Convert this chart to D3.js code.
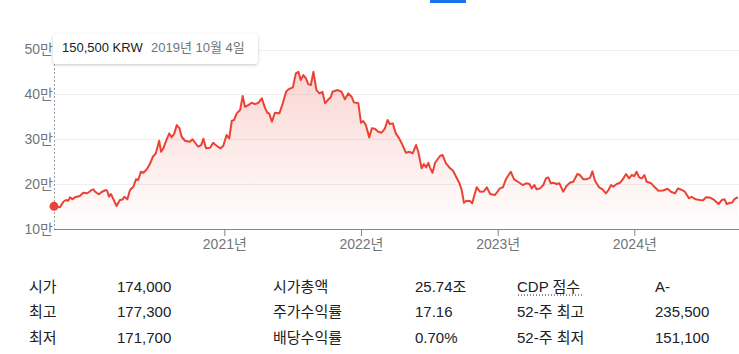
<!DOCTYPE html>
<html>
<head>
<meta charset="utf-8">
<script src="https://cdn.jsdelivr.net/npm/d3@7"></script>
<style>
  body { margin: 0; background: #fff; }
  svg { display: block; font-family: "Liberation Sans", Arial, "Noto Sans CJK KR", sans-serif; }
</style>
</head>
<body>
<script>
// closing prices, KRW
var dates = [
  "2019-10-04","2019-10-20","2019-10-29","2019-11-05","2019-11-11","2019-11-16","2019-11-22","2019-11-29",
  "2019-12-12","2019-12-21","2020-01-01","2020-01-10","2020-01-17","2020-01-23","2020-02-01","2020-02-08",
  "2020-02-20","2020-02-23","2020-02-28","2020-03-04","2020-03-10","2020-03-19","2020-03-28","2020-04-04",
  "2020-04-09","2020-04-17","2020-04-24","2020-05-03","2020-05-10","2020-05-16","2020-05-23","2020-05-30",
  "2020-06-08","2020-06-16","2020-06-24","2020-07-02","2020-07-11","2020-07-16","2020-07-22","2020-07-31",
  "2020-08-07","2020-08-13","2020-08-20","2020-08-27","2020-09-03","2020-09-09","2020-09-18","2020-10-01",
  "2020-10-08","2020-10-15","2020-10-23","2020-10-31","2020-11-06","2020-11-13","2020-11-24","2020-12-02",
  "2020-12-12","2020-12-22","2020-12-29","2021-01-07","2021-01-14","2021-01-21","2021-01-27","2021-02-03",
  "2021-02-12","2021-02-19","2021-02-25","2021-03-06","2021-03-15","2021-03-24","2021-04-02","2021-04-11",
  "2021-04-20","2021-04-26","2021-05-01","2021-05-08","2021-05-16","2021-05-28","2021-06-06","2021-06-15",
  "2021-06-21","2021-07-03","2021-07-11","2021-07-18","2021-07-24","2021-07-31","2021-08-07","2021-08-13",
  "2021-08-20","2021-08-27","2021-09-04","2021-09-12","2021-09-20","2021-09-27","2021-10-06","2021-10-12",
  "2021-10-17","2021-10-30","2021-11-10","2021-11-19","2021-11-28","2021-12-07","2021-12-13","2021-12-25",
  "2022-01-01","2022-01-07","2022-01-14","2022-01-23","2022-01-30","2022-02-07","2022-02-16","2022-02-25",
  "2022-03-06","2022-03-13","2022-03-19","2022-03-27","2022-04-04","2022-04-13","2022-04-22","2022-05-01",
  "2022-05-10","2022-05-19","2022-05-28","2022-06-03","2022-06-12","2022-06-18","2022-06-24","2022-06-30",
  "2022-07-04","2022-07-11","2022-07-18","2022-07-31","2022-08-07","2022-08-16","2022-08-27","2022-09-04",
  "2022-09-12","2022-09-21","2022-09-27","2022-10-03","2022-10-10","2022-10-19","2022-10-25","2022-11-06",
  "2022-11-15","2022-11-25","2022-12-03","2022-12-12","2022-12-25","2023-01-07","2023-01-15","2023-01-23",
  "2023-02-05","2023-02-14","2023-02-28","2023-03-09","2023-03-18","2023-03-27","2023-04-02","2023-04-09",
  "2023-04-15","2023-04-24","2023-05-03","2023-05-10","2023-05-16","2023-05-23","2023-05-30","2023-06-08",
  "2023-06-15","2023-06-25","2023-07-04","2023-07-13","2023-07-22","2023-08-02","2023-08-09","2023-08-18",
  "2023-08-27","2023-09-05","2023-09-11","2023-09-18","2023-09-29","2023-10-08","2023-10-17","2023-10-24",
  "2023-10-31","2023-11-06","2023-11-15","2023-11-24","2023-12-03","2023-12-10","2023-12-18","2023-12-25",
  "2024-01-01","2024-01-07","2024-01-14","2024-01-21","2024-01-28","2024-02-03","2024-02-15","2024-02-25",
  "2024-03-05","2024-03-18","2024-03-30","2024-04-08","2024-04-19","2024-04-27","2024-05-07","2024-05-15",
  "2024-05-26","2024-06-02","2024-06-13","2024-06-24","2024-07-03","2024-07-10","2024-07-21","2024-07-30",
  "2024-08-13","2024-08-22","2024-08-29","2024-09-04","2024-09-13","2024-09-19","2024-09-24","2024-10-01",
  "2024-10-04"
];
var prices = [
  150500,148300,160800,164600,163000,170600,166100,170600,
  173500,180800,179500,185300,188400,182400,177300,182400,
  186900,185300,171900,178000,167500,151200,164600,165500,
  171900,166100,186900,194200,210700,209100,227600,225400,
  233000,244800,261000,268600,296700,272200,279700,299800,
  313100,304200,312000,331600,324900,305600,296700,294400,
  299800,292200,283300,287100,301100,279700,281100,292200,
  284900,279700,284900,309400,302000,341200,342800,357700,
  365000,396200,372400,376200,381300,378400,381300,391100,
  368800,359000,357000,339000,359000,357700,380000,405800,
  411100,415600,446800,450300,431800,443000,435600,422900,
  420700,450300,409600,402200,405800,380000,388900,393300,
  405800,409600,405800,388900,402200,394700,382200,380000,
  336700,340500,331600,304200,324300,323500,316700,314500,
  324300,342800,333900,335400,313100,302000,287100,269900,
  272200,268600,287100,272200,235200,244800,237400,247700,
  237400,225400,247700,262600,264800,246300,235200,229800,
  216500,201800,186900,158600,163000,162500,157200,192900,
  183100,183500,192900,178000,175700,190600,192900,210700,
  227600,210700,203100,198000,201800,200200,190600,198000,
  188400,190600,198000,212900,215100,201800,203100,200200,
  201800,183100,195800,203100,205300,222500,220300,210700,
  211000,214300,228500,207600,192900,188400,179500,186900,
  198000,194200,200200,203100,212900,222500,212900,220300,
  218000,227600,215100,212900,220300,205300,201800,192900,
  185300,185800,189800,183100,179500,190600,186900,183100,
  168400,171900,166100,164600,164000,170600,170000,166100,
  155700,164600,166100,155700,158600,159000,166100,169700,
  170600
];
var yTicks = [100000, 200000, 300000, 400000, 500000];
var xTicks = ["2021-01-01", "2022-01-01", "2023-01-01", "2024-01-01"];

// stats table below the chart
var statNames1 = ["시가", "최고", "최저"];
var statVals1 = ["174,000", "177,300", "171,700"];
var statNames2 = ["시가총액", "주가수익률", "배당수익률"];
var statVals2 = ["25.74조", "17.16", "0.70%"];
var statNames3 = ["CDP 점수", "52-주 최고", "52-주 최저"];
var statVals3 = ["A-", "235,500", "151,100"];

var parse = d3.timeParse("%Y-%m-%d");
var data = dates.map(function(d, i) { return { date: parse(d), price: prices[i] }; });

var width = 739, height = 354;
var plotLeft = 54, plotRight = 738, plotTop = 49.5, plotBottom = 229;

var svg = d3.select("body").append("svg")
  .attr("width", width)
  .attr("height", height);

var x = d3.scaleTime()
  .domain(d3.extent(data, function(d) { return d.date; }))
  .range([plotLeft, plotRight]);
var y = d3.scaleLinear()
  .domain([100000, 500000])
  .range([plotBottom, plotTop]);

var defs = svg.append("defs");
var grad = defs.append("linearGradient")
  .attr("id", "fillGrad")
  .attr("gradientUnits", "userSpaceOnUse")
  .attr("x1", 0).attr("x2", 0)
  .attr("y1", y(d3.max(prices))).attr("y2", plotBottom);
grad.append("stop").attr("offset", "0%").attr("stop-color", "#ea4335").attr("stop-opacity", 0.22);
grad.append("stop").attr("offset", "100%").attr("stop-color", "#ea4335").attr("stop-opacity", 0);

var shadow = defs.append("filter").attr("id", "shadow")
  .attr("x", "-10%").attr("y", "-30%").attr("width", "120%").attr("height", "180%");
shadow.append("feDropShadow")
  .attr("dx", 0).attr("dy", 1).attr("stdDeviation", 1.5)
  .attr("flood-color", "#3c4043").attr("flood-opacity", 0.3);

// tab indicator at the very top
svg.append("rect")
  .attr("x", 430).attr("y", 0).attr("width", 36).attr("height", 3)
  .attr("fill", "#1a73e8");

// gridlines
svg.append("g").selectAll("line")
  .data(yTicks.slice(1))
  .enter().append("line")
  .attr("x1", plotLeft).attr("x2", width)
  .attr("y1", function(d) { return Math.round(y(d)) + 0.5; })
  .attr("y2", function(d) { return Math.round(y(d)) + 0.5; })
  .attr("stroke", "#eeeff1")
  .attr("stroke-width", 1);

// y labels
var yAxis = svg.append("g")
  .attr("transform", "translate(" + plotLeft + ",0)")
  .call(d3.axisLeft(y).tickValues(yTicks).tickSize(0).tickPadding(1)
    .tickFormat(function(d) { return (d / 10000) + "만"; }));
yAxis.select(".domain").remove();
yAxis.selectAll("text")
  .attr("fill", "#70757a")
  .style("font-size", "14px")
  .style("font-family", "\"Liberation Sans\", Arial, \"Noto Sans CJK KR\", sans-serif");

// area + line
var area = d3.area()
  .x(function(d) { return x(d.date); })
  .y0(plotBottom)
  .y1(function(d) { return y(d.price); });
var line = d3.line()
  .x(function(d) { return x(d.date); })
  .y(function(d) { return y(d.price); });

svg.append("path")
  .datum(data)
  .attr("d", area)
  .attr("fill", "url(#fillGrad)");

svg.append("path")
  .datum(data)
  .attr("d", line)
  .attr("fill", "none")
  .attr("stroke", "#ea4335")
  .attr("stroke-width", 2)
  .attr("stroke-linejoin", "round");

// x axis
var xAxis = svg.append("g")
  .attr("transform", "translate(0," + plotBottom + ")")
  .call(d3.axisBottom(x).tickValues(xTicks.map(parse)).tickSize(7).tickSizeOuter(0).tickPadding(3)
    .tickFormat(d3.timeFormat("%Y년")));
xAxis.select(".domain")
  .attr("d", "M" + plotLeft + ",0.5H" + width)
  .attr("stroke", "#80868b");
xAxis.selectAll(".tick line").attr("stroke", "#80868b");
xAxis.selectAll("text")
  .attr("fill", "#70757a")
  .style("font-size", "14px")
  .style("font-family", "\"Liberation Sans\", Arial, \"Noto Sans CJK KR\", sans-serif");

// hover guide at the first point
var first = data[0];
svg.append("line")
  .attr("x1", x(first.date) + 0.5).attr("x2", x(first.date) + 0.5)
  .attr("y1", 64).attr("y2", plotBottom)
  .attr("stroke", "#9aa0a6")
  .attr("stroke-dasharray", "2,2");

svg.append("circle")
  .attr("cx", x(first.date))
  .attr("cy", y(first.price))
  .attr("r", 4.5)
  .attr("fill", "#ea4335");

var tip = svg.append("g");
tip.append("rect")
  .attr("x", 53).attr("y", 34).attr("width", 205).attr("height", 30)
  .attr("rx", 4)
  .attr("fill", "#fff")
  .attr("filter", "url(#shadow)");
tip.append("text")
  .attr("x", 62).attr("y", 49)
  .attr("dominant-baseline", "middle")
  .attr("fill", "#202124")
  .style("font-size", "13px")
  .text(d3.format(",")(first.price) + " KRW");
tip.append("text")
  .attr("x", 151).attr("y", 49)
  .attr("dominant-baseline", "middle")
  .attr("fill", "#70757a")
  .style("font-size", "13px")
  .text(first.date.getFullYear() + "년 " + (first.date.getMonth() + 1) + "월 " + first.date.getDate() + "일");

// stats table
var rowY = [288, 313, 339];
var cols = [
  { x: 29, items: statNames1 }, { x: 117, items: statVals1 },
  { x: 273, items: statNames2 }, { x: 415, items: statVals2 },
  { x: 517, items: statNames3 }, { x: 655, items: statVals3 }
];
cols.forEach(function(c) {
  svg.append("g").selectAll("text")
    .data(c.items)
    .enter().append("text")
    .attr("x", c.x)
    .attr("y", function(d, i) { return rowY[i]; })
    .attr("dominant-baseline", "middle")
    .attr("fill", "#202124")
    .style("font-size", "15px")
    .text(function(d) { return d; });
});

// dotted underline under "CDP 점수"
svg.append("line")
  .attr("x1", 518).attr("x2", 584)
  .attr("y1", 295).attr("y2", 295)
  .attr("stroke", "#202124")
  .attr("stroke-dasharray", "1,2");
</script>
</body>
</html>
